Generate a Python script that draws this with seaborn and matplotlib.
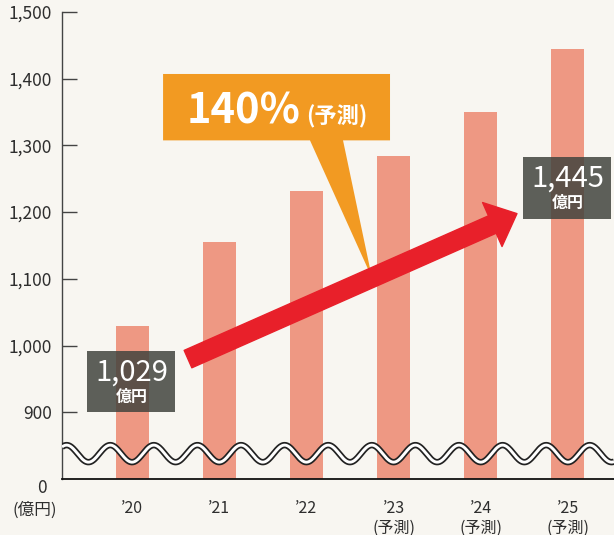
import numpy as np
import pandas as pd
import matplotlib.pyplot as plt
import seaborn as sns
from matplotlib.patches import Rectangle, Polygon, FancyArrowPatch, ArrowStyle

# データ（億円）
years = ["’20", "’21", "’22", "’23\n(予測)", "’24\n(予測)", "’25\n(予測)"]
sales = [1029, 1155, 1232, 1284, 1350, 1445]
y_ticks = [900, 1000, 1100, 1200, 1300, 1400, 1500]
y_labels = ["900", "1,000", "1,100", "1,200", "1,300", "1,400", "1,500"]
growth_text = "140%"

bg = '#f8f6f1'
bar_col = '#ee9883'
red = '#e8202a'
orange = '#f29a22'
grey = '#42443e'

sns.set_theme(style='white')
plt.rcParams['font.family'] = ['Noto Sans CJK JP', 'DejaVu Sans']

df = pd.DataFrame({'year': years, 'sales': sales})

fig = plt.figure(figsize=(6.14, 5.35), dpi=100)
fig.patch.set_facecolor(bg)
ax = fig.add_axes([0.101, 0.1047, 0.899, 0.873])
ax.set_facecolor(bg)

sns.barplot(data=df, x='year', y='sales', color=bar_col, saturation=1,
            width=0.378, linewidth=0, ax=ax, zorder=2)

x0, x1 = -0.803, 5.528
ax.set_xlim(x0, x1)
ax.set_ylim(800, 1500)
ax.set_xlabel('')
ax.set_ylabel('')

ax.set_yticks(y_ticks)
ax.set_yticklabels(y_labels)
ax.tick_params(axis='y', direction='in', length=10.8, width=1, color='#444',
               pad=7, labelsize=12.5, labelcolor='#2e2e2e', left=True)
ax.tick_params(axis='x', length=0, pad=15, labelsize=11.5, labelcolor='#2e2e2e')

for s in ['top', 'right']:
    ax.spines[s].set_visible(False)
ax.spines['left'].set_color('#444')
ax.spines['left'].set_linewidth(1)
ax.spines['bottom'].set_color('#111')
ax.spines['bottom'].set_linewidth(1.3)

# 省略線（波線）
xs = np.linspace(x0, x1, 800)
ys = 838 - 12.8 * np.cos(4 * np.pi * xs)
ax.plot(xs, ys, color='#222', lw=4.6, zorder=3, solid_capstyle='butt')
ax.plot(xs, ys, color='white', lw=2.1, zorder=3.1, solid_capstyle='butt')

fig.text(42 / 614, 1 - 488 / 535, "0", ha='center', va='center', fontsize=12.5, color='#2e2e2e')
fig.text(35 / 614, 1 - 510 / 535, "(億円)", ha='center', va='center', fontsize=12, color='#2e2e2e')

# 吹き出し
callout = Polygon([(0.356, 1407), (2.959, 1407), (2.959, 1307.5), (2.420, 1307.5),
                   (2.752, 1101.5), (2.041, 1307.5), (0.356, 1307.5)],
                  closed=True, facecolor=orange, edgecolor='none', zorder=5)
ax.add_patch(callout)
ax.text(1.93, 1333, growth_text, ha='right', va='baseline', fontsize=30,
        fontweight='bold', color='white', zorder=6)
ax.text(2.0, 1333, "(予測)", ha='left', va='baseline', fontsize=16,
        fontweight='bold', color='white', zorder=6)

# 矢印
arrow = FancyArrowPatch((0.642, 979.7), (4.415, 1197.7),
                        arrowstyle=ArrowStyle.Simple(head_length=19.4, head_width=34.6, tail_width=13.7),
                        mutation_scale=1, color=red, shrinkA=0, shrinkB=0, zorder=7)
ax.add_patch(arrow)

# 数値ラベル
for xi, val, yb in [(0, sales[0], 900), (5, sales[-1], 1190)]:
    ax.add_patch(Rectangle((xi - 0.516, yb), 1.01, 92, facecolor=grey, alpha=0.85,
                           edgecolor='none', zorder=5))
    ax.text(xi, yb + 60, f"{val:,}", ha='center', va='center', fontsize=21,
            color='white', zorder=6)
    ax.text(xi, yb + 23, "億円", ha='center', va='center', fontsize=11.5,
            fontweight='bold', color='white', zorder=6)

fig.savefig('out.png', dpi=100, facecolor=fig.get_facecolor())
